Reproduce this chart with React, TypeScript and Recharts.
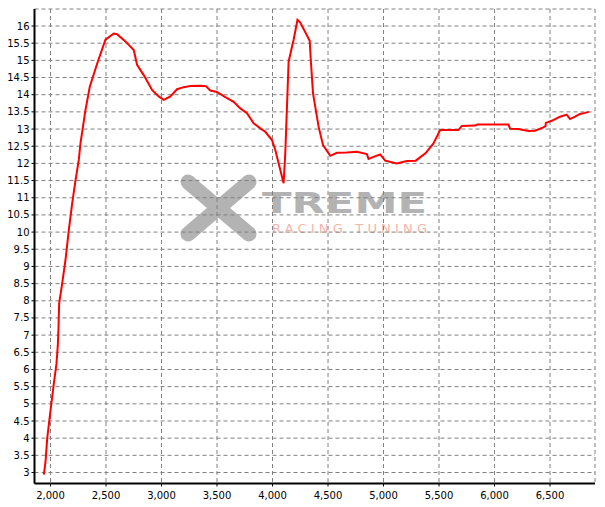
import React from 'react';
import { LineChart, Line, XAxis, YAxis, CartesianGrid } from 'recharts';

const rpm = [
  1940, 1955, 1970, 2000, 2030, 2054, 2066, 2072, 2078, 2105, 2135, 2165, 2195, 2225, 2255, 2270,
  2315, 2354, 2420, 2495, 2570, 2600, 2675, 2705, 2750, 2780, 2840, 2915, 2975, 3020, 3080, 3140,
  3200, 3260, 3350, 3400, 3440, 3500, 3575, 3650, 3710, 3770, 3830, 3890, 3935, 3995, 4025, 4100,
  4115, 4145, 4190, 4225, 4250, 4335, 4345, 4365, 4415, 4455, 4520, 4580, 4670, 4760, 4850, 4865,
  4910, 4970, 5015, 5120, 5210, 5290, 5380, 5450, 5510, 5675, 5705, 5825, 5845, 6125, 6140, 6215,
  6305, 6365, 6440, 6460, 6462, 6515, 6590, 6650, 6680, 6725, 6770, 6815, 6850,
];
const afr = [
  2.94, 3.3, 3.98, 4.8, 5.59, 6.17, 6.7, 7.2, 7.92, 8.5, 9.18, 10.06, 10.83, 11.5, 12.1, 12.58,
  13.55, 14.23, 14.9, 15.6, 15.78, 15.76, 15.55, 15.45, 15.3, 14.87, 14.57, 14.14, 13.95, 13.85, 13.95, 14.16,
  14.22, 14.25, 14.26, 14.25, 14.12, 14.08, 13.93, 13.79, 13.6, 13.46, 13.17, 13.02, 12.92, 12.68, 12.39, 11.42,
  12.29, 14.96, 15.6, 16.18, 16.1, 15.57, 15.0, 14.04, 13.07, 12.53, 12.22, 12.31, 12.32, 12.34, 12.27, 12.13,
  12.19, 12.26, 12.08, 12.0, 12.07, 12.08, 12.3, 12.58, 12.97, 12.97, 13.09, 13.1, 13.13, 13.13, 13.01, 13.0,
  12.94, 12.95, 13.05, 13.09, 13.18, 13.24, 13.36, 13.42, 13.29, 13.36, 13.44, 13.47, 13.5,
];

const xTicks = [2000, 2500, 3000, 3500, 4000, 4500, 5000, 5500, 6000, 6500];
const yTicks = [
  3, 3.5, 4, 4.5, 5, 5.5, 6, 6.5, 7, 7.5, 8, 8.5, 9, 9.5, 10, 10.5, 11, 11.5, 12, 12.5, 13, 13.5,
  14, 14.5, 15, 15.5, 16,
];
const xMinorTicks = Array.from({ length: 50 }, (_, i) => 1900 + i * 100);
const yMinorTicks = Array.from({ length: 137 }, (_, i) => Math.round((2.7 + i * 0.1) * 10) / 10);

const X_DOMAIN: [number, number] = [1856, 6905];
const Y_DOMAIN: [number, number] = [2.68, 16.495];

const data = rpm.map((r, i) => ({ rpm: r, afr: afr[i] }));

const tickStyle = { fill: '#000', fontSize: 10, fontFamily: 'DejaVu Sans' };
const emptyTick = () => <g />;

export default function App() {
  return (
    <div style={{ position: 'absolute', left: 0, top: 0, width: 605, height: 507, background: '#fff' }}>
      <svg width={605} height={507} style={{ position: 'absolute', left: 0, top: 0 }}>
        <g stroke="#b3b3b3" strokeWidth={15} strokeLinecap="round">
          <line x1={188} y1={182} x2={249} y2={234} />
          <line x1={249} y1={182} x2={188} y2={234} />
        </g>
        <text x={262} y={213} fontFamily="DejaVu Sans" fontWeight="bold" fontSize={28} fill="#b3b3b3"
          textLength={165} lengthAdjust="spacingAndGlyphs">TREME</text>
        <text x={272} y={233} fontFamily="DejaVu Sans" fontSize={13} fill="#f5b5ab"
          textLength={155} lengthAdjust="spacing">RACING TUNING</text>
      </svg>
      <div style={{ position: 'absolute', left: 0, top: 0 }}>
        <LineChart width={605} height={507} data={data} margin={{ top: 9, right: 10, left: 0, bottom: 0 }}>
          <XAxis xAxisId="minor" type="number" domain={X_DOMAIN} allowDataOverflow ticks={xMinorTicks}
            interval={0} height={0} axisLine={false} tickLine={{ stroke: '#000' }} tickSize={2} tick={emptyTick} />
          <YAxis yAxisId="minor" type="number" domain={Y_DOMAIN} allowDataOverflow ticks={yMinorTicks}
            interval={0} width={0} axisLine={false} tickLine={{ stroke: '#000' }} tickSize={2} tick={emptyTick} />
          <CartesianGrid xAxisId="main" yAxisId="main" stroke="#808080" strokeDasharray="4 3" />
          <XAxis xAxisId="main" type="number" dataKey="rpm" domain={X_DOMAIN} allowDataOverflow ticks={xTicks}
            interval={0} height={23.5} tickSize={3} tickMargin={5}
            axisLine={{ stroke: '#000', strokeWidth: 2 }} tickLine={{ stroke: '#000' }}
            tick={tickStyle} tickFormatter={(v: number) => v.toLocaleString('en-US')} />
          <YAxis yAxisId="main" type="number" dataKey="afr" domain={Y_DOMAIN} allowDataOverflow ticks={yTicks}
            interval={0} width={34.5} tickSize={3} tickMargin={2}
            axisLine={{ stroke: '#000', strokeWidth: 2 }} tickLine={{ stroke: '#000' }} tick={tickStyle} />
          <XAxis xAxisId="top" orientation="top" type="number" domain={X_DOMAIN} allowDataOverflow height={0}
            tick={false} tickLine={false} axisLine={{ stroke: '#000', strokeWidth: 1 }} />
          <YAxis yAxisId="right" orientation="right" type="number" domain={Y_DOMAIN} allowDataOverflow width={0}
            tick={false} tickLine={false} axisLine={{ stroke: '#000', strokeWidth: 1 }} />
          <Line xAxisId="main" yAxisId="main" type="linear" dataKey="afr" stroke="#ff0000" strokeWidth={2}
            dot={false} activeDot={false} isAnimationActive={false} />
        </LineChart>
      </div>
    </div>
  );
}
